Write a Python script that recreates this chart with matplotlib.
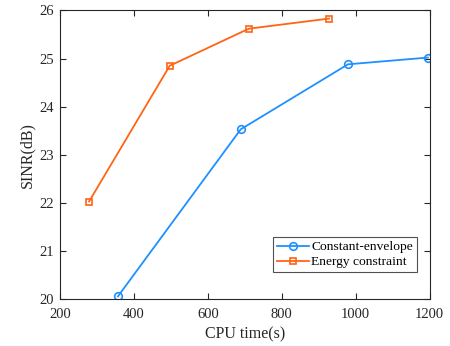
"""Recreate the SINR vs CPU time chart."""

import matplotlib
matplotlib.use("Agg")
import matplotlib.pyplot as plt

cpu_time_ce = [357, 689, 979, 1195]
sinr_ce = [20.06, 23.53, 24.88, 25.02]
cpu_time_energy = [279, 497, 711, 928]
sinr_energy = [22.03, 24.85, 25.62, 25.83]

plt.rcParams["font.family"] = ["Liberation Serif", "DejaVu Serif"]
plt.rcParams["font.size"] = 10.5

figure, axis = plt.subplots(figsize=(4.5, 3.46), dpi=100)
figure.subplots_adjust(left=0.133, right=0.955, top=0.97, bottom=0.135)

axis.plot(cpu_time_ce, sinr_ce, color="#1e90ff", marker="o", markersize=5.5,
          markerfacecolor="none", markeredgewidth=1.2, linewidth=1.3,
          label="Constant-envelope")
axis.plot(cpu_time_energy, sinr_energy, color="#ff6414", marker="s", markersize=4.5,
          markerfacecolor="none", markeredgewidth=1.2, linewidth=1.3,
          label="Energy constraint")

axis.set_xlim(200, 1200)
axis.set_ylim(20, 26)
axis.set_xticks(range(200, 1201, 200))
axis.set_yticks(range(20, 27))
axis.tick_params(direction="in", top=True, right=True, length=4, colors="#262626",
                 labelcolor="#262626", labelsize=10.5)
axis.tick_params(axis="x", pad=6.5)
axis.tick_params(axis="y", pad=4)
for spine in axis.spines.values():
    spine.set_color("#262626")
    spine.set_linewidth(0.8)

axis.set_xlabel("CPU time(s)", color="#262626", fontsize=11.5, labelpad=4)
axis.set_ylabel("SINR(dB)", color="#262626", fontsize=11.5, labelpad=3)

legend = axis.legend(loc="lower right", bbox_to_anchor=(0.965, 0.093), fancybox=False,
                     edgecolor="#262626", fontsize=9.7, handlelength=2.4,
                     borderpad=0.3, labelspacing=0.2, handletextpad=0.15,
                     borderaxespad=0)
legend.get_frame().set_linewidth(0.8)

figure.savefig("out.png", dpi=100)
